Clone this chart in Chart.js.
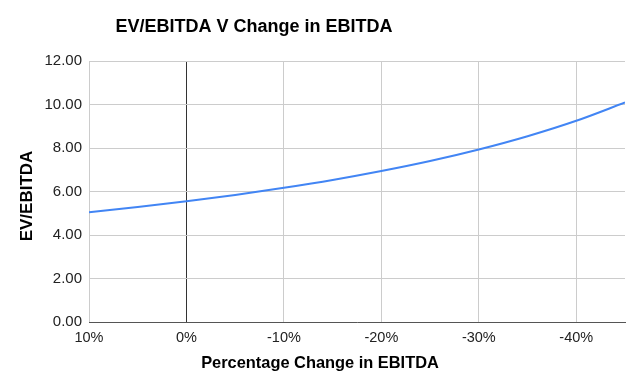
<!DOCTYPE html>
<html>
<head>
<meta charset="utf-8">
<script src="https://cdn.jsdelivr.net/npm/chart.js@4"></script>
<style>
  html, body { margin: 0; padding: 0; background: #fff; }
  #wrap { width: 640px; height: 385px; position: relative; }
</style>
</head>
<body>
<div id="wrap"><canvas id="c" width="640" height="385"></canvas></div>
<script>
// Data
const chartTitle = 'EV/EBITDA V Change in EBITDA';
const xAxisTitle = 'Percentage Change in EBITDA';
const yAxisTitle = 'EV/EBITDA';
const changePct = [10, 5, 0, -5, -10, -15, -20, -25, -30, -35, -40, -45];
const evEbitda  = [5.05, 5.29, 5.55, 5.84, 6.17, 6.53, 6.94, 7.40, 7.93, 8.54, 9.25, 10.09];
const xTickValues = [10, 0, -10, -20, -30, -40];
const yTickValues = [0, 2, 4, 6, 8, 10, 12];

const FONT = "'Liberation Sans', Arial, sans-serif";

const titlePlugin = {
  id: 'customTitles',
  afterDraw(chart) {
    const ctx = chart.ctx;
    ctx.save();
    ctx.fillStyle = '#000';
    ctx.textAlign = 'center';
    ctx.textBaseline = 'middle';
    ctx.font = "bold 18px " + FONT;
    ctx.fillText(chartTitle, 254, 27);
    ctx.font = "bold 16.4px " + FONT;
    ctx.fillText(xAxisTitle, 320, 363);
    ctx.translate(27, 196);
    ctx.rotate(-Math.PI / 2);
    ctx.font = "bold 17px " + FONT;
    ctx.fillText(yAxisTitle, 0, 0);
    ctx.restore();
  }
};

new Chart(document.getElementById('c'), {
  type: 'line',
  data: {
    datasets: [{
      data: changePct.map((x, i) => ({ x: x, y: evEbitda[i] })),
      borderColor: '#4285F4',
      borderWidth: 2,
      pointRadius: 0,
      fill: false,
      cubicInterpolationMode: 'monotone'
    }]
  },
  plugins: [titlePlugin],
  options: {
    responsive: false,
    animation: false,
    layout: { padding: { top: 61, right: 15, bottom: 0, left: 0 } },
    plugins: { legend: { display: false }, tooltip: { enabled: false }, title: { display: false } },
    scales: {
      x: {
        type: 'linear',
        reverse: true,
        min: -45,
        max: 10,
        afterBuildTicks(scale) {
          scale.ticks = xTickValues.map(v => ({ value: v }));
        },
        afterFit(scale) { scale.height = 63; },
        ticks: {
          padding: 7,
          color: '#222',
          font: { family: FONT, size: 14.5 },
          maxRotation: 0,
          autoSkip: false,
          callback: v => v + '%'
        },
        grid: {
          drawTicks: false,
          color: ctx => (ctx.tick && ctx.tick.value === 0) ? '#333' : '#cccccc',
          lineWidth: 1
        },
        border: { display: true, color: '#555', width: 1 },
        title: { display: false }
      },
      y: {
        type: 'linear',
        min: 0,
        max: 12,
        afterBuildTicks(scale) {
          scale.ticks = yTickValues.map(v => ({ value: v }));
        },
        afterFit(scale) { scale.width = 89; },
        ticks: {
          padding: 7,
          color: '#222',
          font: { family: FONT, size: 15 },
          callback: v => v.toFixed(2)
        },
        grid: { drawTicks: false, color: '#cccccc', lineWidth: 1 },
        border: { display: false },
        title: { display: false }
      }
    }
  }
});
</script>
</body>
</html>
